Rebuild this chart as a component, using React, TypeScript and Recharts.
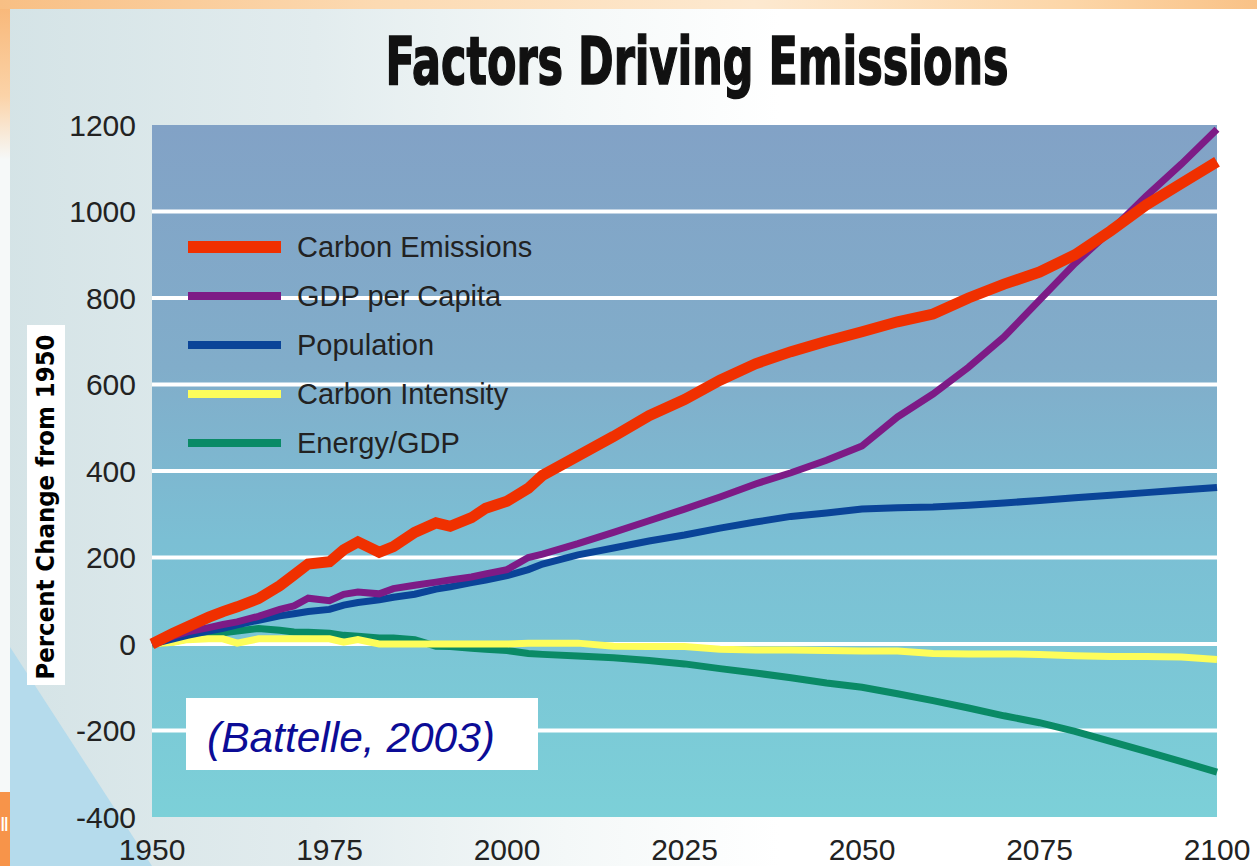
import React from 'react';
import { LineChart, Line, XAxis, YAxis, CartesianGrid, Legend } from 'recharts';

// years sampled along the x axis (denser before 2000 where the lines wiggle)
const years = [
  1950, 1953, 1955, 1958, 1960, 1962, 1965, 1968, 1970, 1972,
  1975, 1977, 1979, 1982, 1984, 1987, 1990, 1992, 1995, 1997,
  2000, 2003, 2005, 2010, 2015, 2020, 2025, 2030, 2035, 2040,
  2045, 2050, 2055, 2060, 2065, 2070, 2075, 2080, 2085, 2090,
  2095, 2100,
];

// percent change from 1950
const carbonEmissions = [
  0, 25, 40, 62, 75, 86, 105, 135, 160, 185,
  190, 218, 236, 212, 225, 258, 280, 272, 292, 314,
  330, 360, 390, 435, 480, 528, 565, 610, 648, 676,
  700, 722, 745, 763, 800, 832, 860, 900, 955, 1015,
  1065, 1115,
];
const gdpPerCapita = [
  0, 18, 28, 38, 45, 51, 64, 80, 88, 106,
  100, 115, 120, 116, 128, 136, 143, 148, 155, 162,
  172, 200, 208, 232, 258, 285, 312, 340, 370, 396,
  425, 458, 525, 578, 640, 710, 795, 880, 955, 1035,
  1110, 1190,
];
const population = [
  0, 12, 20, 30, 36, 44, 55, 65, 70, 75,
  80, 90, 96, 102, 108, 115, 127, 132, 142, 148,
  158, 172, 185, 206, 222, 238, 252, 268, 282, 295,
  303, 312, 315, 317, 321, 326, 332, 338, 344, 350,
  356, 362,
];
const carbonIntensity = [
  0, 4, 10, 12, 12, 2, 12, 12, 12, 12,
  12, 4, 10, 0, 0, 0, 0, 0, 0, 0,
  0, 2, 2, 2, -5, -6, -6, -12, -14, -14,
  -15, -16, -16, -22, -23, -23, -24, -27, -29, -29,
  -30, -36,
];
const energyGdp = [
  0, 5, 12, 20, 26, 30, 36, 32, 28, 27,
  25, 20, 18, 14, 14, 10, -5, -6, -10, -12,
  -15, -22, -24, -28, -32, -38, -46, -57, -67, -78,
  -90, -100, -115, -131, -148, -166, -182, -202, -225, -248,
  -272, -296,
];

const xTicks = [1950, 1975, 2000, 2025, 2050, 2075, 2100];
const yTicks = [-400, -200, 0, 200, 400, 600, 800, 1000, 1200];
const gridValues = [-200, 0, 200, 400, 600, 800, 1000];

const data = years.map((year, i) => ({
  year,
  carbon: carbonEmissions[i],
  gdp: gdpPerCapita[i],
  population: population[i],
  intensity: carbonIntensity[i],
  energy: energyGdp[i],
}));

const legendItems = [
  { key: 'carbon', name: 'Carbon Emissions', color: '#f03000', size: 12 },
  { key: 'gdp', name: 'GDP per Capita', color: '#7d1b86', size: 8 },
  { key: 'population', name: 'Population', color: '#0a4498', size: 8 },
  { key: 'intensity', name: 'Carbon Intensity', color: '#fdfd5a', size: 8 },
  { key: 'energy', name: 'Energy/GDP', color: '#0a8a66', size: 8 },
];

const FONT = '"Liberation Sans", Arial, sans-serif';

const renderLegend = () => (
  <div style={{ fontFamily: FONT }}>
    {legendItems.map((item) => (
      <div key={item.key} style={{ display: 'flex', alignItems: 'center', height: 49 }}>
        <div style={{ width: 93, height: item.size, background: item.color, marginRight: 16 }} />
        <span style={{ fontSize: 29, color: '#222', lineHeight: '30px' }}>{item.name}</span>
      </div>
    ))}
  </div>
);

const App = () => {
  return (
    <div style={{ position: 'absolute', left: 0, top: 0, width: 1257, height: 866, overflow: 'hidden', fontFamily: FONT }}>
      {/* slide background */}
      <div style={{ position: 'absolute', inset: 0, background: 'linear-gradient(90deg, #d4e3e6 0%, #e2ecee 25%, #f4f8f8 45%, #ffffff 62%)' }} />
      <div style={{ position: 'absolute', left: 0, top: 0, width: 10, height: 866, background: '#f6f9f9' }} />
      <div style={{ position: 'absolute', left: 0, top: 0, width: 10, height: 160, background: 'linear-gradient(180deg, #f8b676 0%, #fbd3a8 60%, rgba(246,249,249,0) 100%)' }} />
      <div style={{ position: 'absolute', left: 0, top: 0, width: 1257, height: 9, background: 'linear-gradient(90deg, #f8bf84 0%, #fcdab2 30%, #fde9d0 60%, #fcd6a8 85%, #f9c287 100%)' }} />
      <svg width={1257} height={866} style={{ position: 'absolute', left: 0, top: 0 }}>
        <polygon points="10,647 152,866 10,866" fill="#b5dbec" />
      </svg>
      <div style={{ position: 'absolute', left: 0, top: 792, width: 10, height: 74, background: '#f7944a' }} />
      <div style={{ position: 'absolute', left: 0, top: 812, color: '#fff', fontSize: 20, lineHeight: '24px', letterSpacing: -2 }}>II</div>

      {/* y axis title box */}
      <div style={{ position: 'absolute', left: 27, top: 325, width: 38, height: 360, background: '#fff' }} />
      <svg width={1257} height={866} style={{ position: 'absolute', left: 0, top: 0 }}>
        <text
          transform="translate(54,507) rotate(-90)"
          textAnchor="middle"
          fontSize={25}
          fontWeight="bold"
          fill="#000"
          fontFamily='"DejaVu Sans", sans-serif'
          textLength={345}
          lengthAdjust="spacingAndGlyphs"
        >
          Percent Change from 1950
        </text>
      </svg>

      <div style={{ position: 'absolute', left: 0, top: 0 }}>
        <LineChart width={1257} height={866} data={data} margin={{ top: 125, right: 40, bottom: 0, left: 0 }}>
          <defs>
            <linearGradient id="plotBg" x1="0" y1="0" x2="0" y2="1">
              <stop offset="0%" stopColor="#82a2c6" />
              <stop offset="35%" stopColor="#81adca" />
              <stop offset="60%" stopColor="#7bbfd4" />
              <stop offset="100%" stopColor="#7cd0d8" />
            </linearGradient>
          </defs>
          <CartesianGrid
            vertical={false}
            horizontalValues={gridValues}
            stroke="#ffffff"
            strokeWidth={4}
            fill="url(#plotBg)"
            fillOpacity={1}
          />
          <XAxis
            dataKey="year"
            type="number"
            domain={[1950, 2100]}
            ticks={xTicks}
            axisLine={false}
            tickLine={false}
            tickSize={0}
            tickMargin={22}
            height={49}
            interval={0}
            tick={{ fontSize: 30, fill: '#222', fontFamily: FONT }}
          />
          <YAxis
            type="number"
            domain={[-400, 1200]}
            ticks={yTicks}
            axisLine={false}
            tickLine={false}
            tickSize={0}
            tickMargin={16}
            width={152}
            interval={0}
            tick={{ fontSize: 30, fill: '#222', fontFamily: FONT }}
          />
          <Legend
            layout="vertical"
            align="center"
            verticalAlign="middle"
            content={renderLegend}
            wrapperStyle={{ left: 188, top: 222, width: 360, height: 250 }}
          />
          <Line type="linear" dataKey="energy" name="Energy/GDP" stroke="#0a8a66" strokeWidth={7} dot={false} activeDot={false} isAnimationActive={false} />
          <Line type="linear" dataKey="intensity" name="Carbon Intensity" stroke="#fdfd5a" strokeWidth={7} dot={false} activeDot={false} isAnimationActive={false} />
          <Line type="linear" dataKey="population" name="Population" stroke="#0a4498" strokeWidth={7} dot={false} activeDot={false} isAnimationActive={false} />
          <Line type="linear" dataKey="gdp" name="GDP per Capita" stroke="#7d1b86" strokeWidth={7} dot={false} activeDot={false} isAnimationActive={false} />
          <Line type="linear" dataKey="carbon" name="Carbon Emissions" stroke="#f03000" strokeWidth={11} dot={false} activeDot={false} isAnimationActive={false} />
        </LineChart>
      </div>

      {/* title */}
      <svg width={1257} height={120} style={{ position: 'absolute', left: 0, top: 0 }}>
        <text
          x={697}
          y={84}
          textAnchor="middle"
          fontSize={66}
          fontWeight="bold"
          fill="#111"
          stroke="#111"
          strokeWidth={1.5}
          fontFamily='"DejaVu Sans Condensed", "DejaVu Sans", sans-serif'
          textLength={623}
          lengthAdjust="spacingAndGlyphs"
        >
          Factors Driving Emissions
        </text>
      </svg>

      {/* citation */}
      <div style={{ position: 'absolute', left: 186, top: 698, width: 352, height: 72, background: '#fff' }} />
      <svg width={1257} height={866} style={{ position: 'absolute', left: 0, top: 0 }}>
        <text
          x={207}
          y={752}
          fontSize={42}
          fontStyle="italic"
          fill="#0c0c96"
          fontFamily={FONT}
          textLength={288}
          lengthAdjust="spacingAndGlyphs"
        >
          (Battelle, 2003)
        </text>
      </svg>
    </div>
  );
};

export default App;
